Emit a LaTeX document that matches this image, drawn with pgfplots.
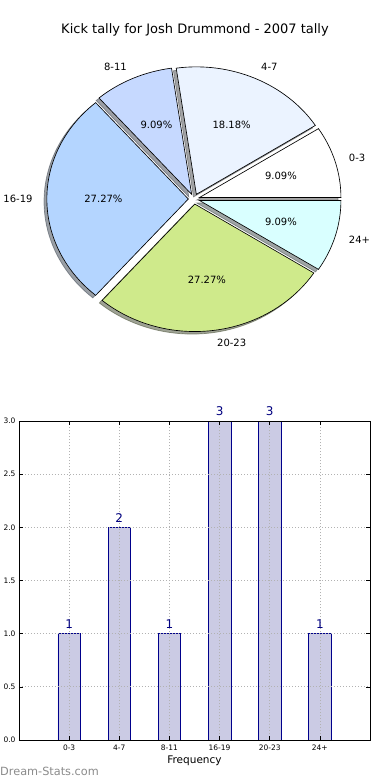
\documentclass[border=0pt]{standalone}
\usepackage{pgfplots}
\pgfplotsset{compat=1.18}
\usepackage{fontspec}
\setmainfont{DejaVu Sans}
\definecolor{c03}{HTML}{FFFFFF}
\definecolor{c47}{HTML}{EBF3FF}
\definecolor{c811}{HTML}{C6D9FF}
\definecolor{c1619}{HTML}{B4D5FF}
\definecolor{c2023}{HTML}{CFEA8B}
\definecolor{c24}{HTML}{D9FFFF}
\definecolor{barfill}{HTML}{CBCBE4}
\definecolor{baredge}{HTML}{00008B}
\definecolor{navytext}{HTML}{000080}
\definecolor{wm}{HTML}{8C8C8C}
\newcommand\ex{0.04}
\newcommand\total{11}
\newcommand\labfont{\fontsize{10}{12}\selectfont}
% #1 cumulative start count, #2 value, #3 colour
\newcommand\pieshadow[3]{%
  \filldraw[fill=#3!30!black, draw=#3!30!black, opacity=0.5, line width=0.7pt]
   (axis cs:{\ex*cos(360*(#1+#2/2)/\total)-0.02},{\ex*sin(360*(#1+#2/2)/\total)-0.02})
   -- (axis cs:{\ex*cos(360*(#1+#2/2)/\total)+cos(360*#1/\total)-0.02},{\ex*sin(360*(#1+#2/2)/\total)+sin(360*#1/\total)-0.02})
   arc[start angle={360*#1/\total}, end angle={360*(#1+#2)/\total}, x radius=141.5pt, y radius=127.5pt]
   -- cycle;}
\newcommand\pieslice[3]{%
  \filldraw[fill=#3, draw=black, line width=0.65pt]
   (axis cs:{\ex*cos(360*(#1+#2/2)/\total)},{\ex*sin(360*(#1+#2/2)/\total)})
   -- (axis cs:{\ex*cos(360*(#1+#2/2)/\total)+cos(360*#1/\total)},{\ex*sin(360*(#1+#2/2)/\total)+sin(360*#1/\total)})
   arc[start angle={360*#1/\total}, end angle={360*(#1+#2)/\total}, x radius=141.5pt, y radius=127.5pt]
   -- cycle;}
% #1 start, #2 value, #3 label, #4 percent, #5 anchor
\newcommand\pielabel[5]{%
  \node[anchor=#5, inner sep=0pt, font=\labfont] at (axis cs:{(1.1+\ex)*cos(360*(#1+#2/2)/\total)},{(1.1+\ex)*sin(360*(#1+#2/2)/\total)}) {#3};
  \node[inner sep=0pt, font=\labfont] at (axis cs:{(0.6+\ex)*cos(360*(#1+#2/2)/\total)},{(0.6+\ex)*sin(360*(#1+#2/2)/\total)}) {#4};}
\begin{document}
\begin{tikzpicture}
\useasboundingbox (0pt,0pt) rectangle (390pt,780pt);
\fill[white] (0pt,0pt) rectangle (390pt,780pt);
\node[anchor=base, font=\fontsize{13}{15}\selectfont] at (195pt,746.5pt) {Kick tally for Josh Drummond - 2007 tally};
% pie
\begin{axis}[at={(194pt,581pt)}, anchor=center, scale only axis,
  x=141.5pt, y=127.5pt, xmin=-1.5, xmax=1.5, ymin=-1.5, ymax=1.5,
  hide axis, clip=false]
\pieshadow{0}{1}{c03}
\pieshadow{1}{2}{c47}
\pieshadow{3}{1}{c811}
\pieshadow{4}{3}{c1619}
\pieshadow{7}{3}{c2023}
\pieshadow{10}{1}{c24}
\pieslice{0}{1}{c03}
\pieslice{1}{2}{c47}
\pieslice{3}{1}{c811}
\pieslice{4}{3}{c1619}
\pieslice{7}{3}{c2023}
\pieslice{10}{1}{c24}
\pielabel{0}{1}{0-3}{9.09\%}{west}
\pielabel{1}{2}{4-7}{18.18\%}{west}
\pielabel{3}{1}{8-11}{9.09\%}{east}
\pielabel{4}{3}{16-19}{27.27\%}{east}
\pielabel{7}{3}{20-23}{27.27\%}{west}
\pielabel{10}{1}{24+}{9.09\%}{west}
\end{axis}
% bars
\begin{axis}[at={(19pt,40pt)}, anchor=south west, scale only axis,
  width=351pt, height=319pt,
  xmin=-1, xmax=6, ymin=0, ymax=3, enlargelimits=false,
  ybar, bar width=0.45,
  xtick={0,1,2,3,4,5}, xticklabels={0-3,4-7,8-11,16-19,20-23,24+},
  ytick={0,0.5,1,1.5,2,2.5,3},
  grid=major, grid style={dash pattern=on 0.8pt off 2.2pt, gray!60, line width=0.7pt},
  axis on top, tick align=inside, major tick length=4pt,
  tick style={black, line width=0.5pt},
  axis line style={black, line width=0.8pt},
  ticklabel style={font=\fontsize{7.5}{8}\selectfont},
  xticklabel style={anchor=north, inner sep=0pt, yshift=-5pt},
  yticklabel style={anchor=east, inner sep=0pt, xshift=-3.3pt,
    /pgf/number format/fixed, /pgf/number format/fixed zerofill, /pgf/number format/precision=1},
  /pgf/number format/assume math mode=true,
  nodes near coords,
  nodes near coords style={font=\fontsize{12}{14}\selectfont, text=navytext, anchor=south, inner sep=0pt, yshift=4.5pt},
  xlabel={Frequency},
  xlabel style={at={(axis description cs:0.5,0)}, anchor=north, inner sep=0pt, yshift=-16pt, font=\fontsize{10.5}{12}\selectfont},
  clip=false]
\addplot[fill=barfill, draw=baredge, line width=0.7pt] coordinates {(0,1) (1,2) (2,1) (3,3) (4,3) (5,1)};
\end{axis}
\node[anchor=west, inner sep=0pt, text=wm, font=\fontsize{11.3}{13}\selectfont] at (0pt,8.5pt) {Dream-Stats.com};
\end{tikzpicture}
\end{document}
